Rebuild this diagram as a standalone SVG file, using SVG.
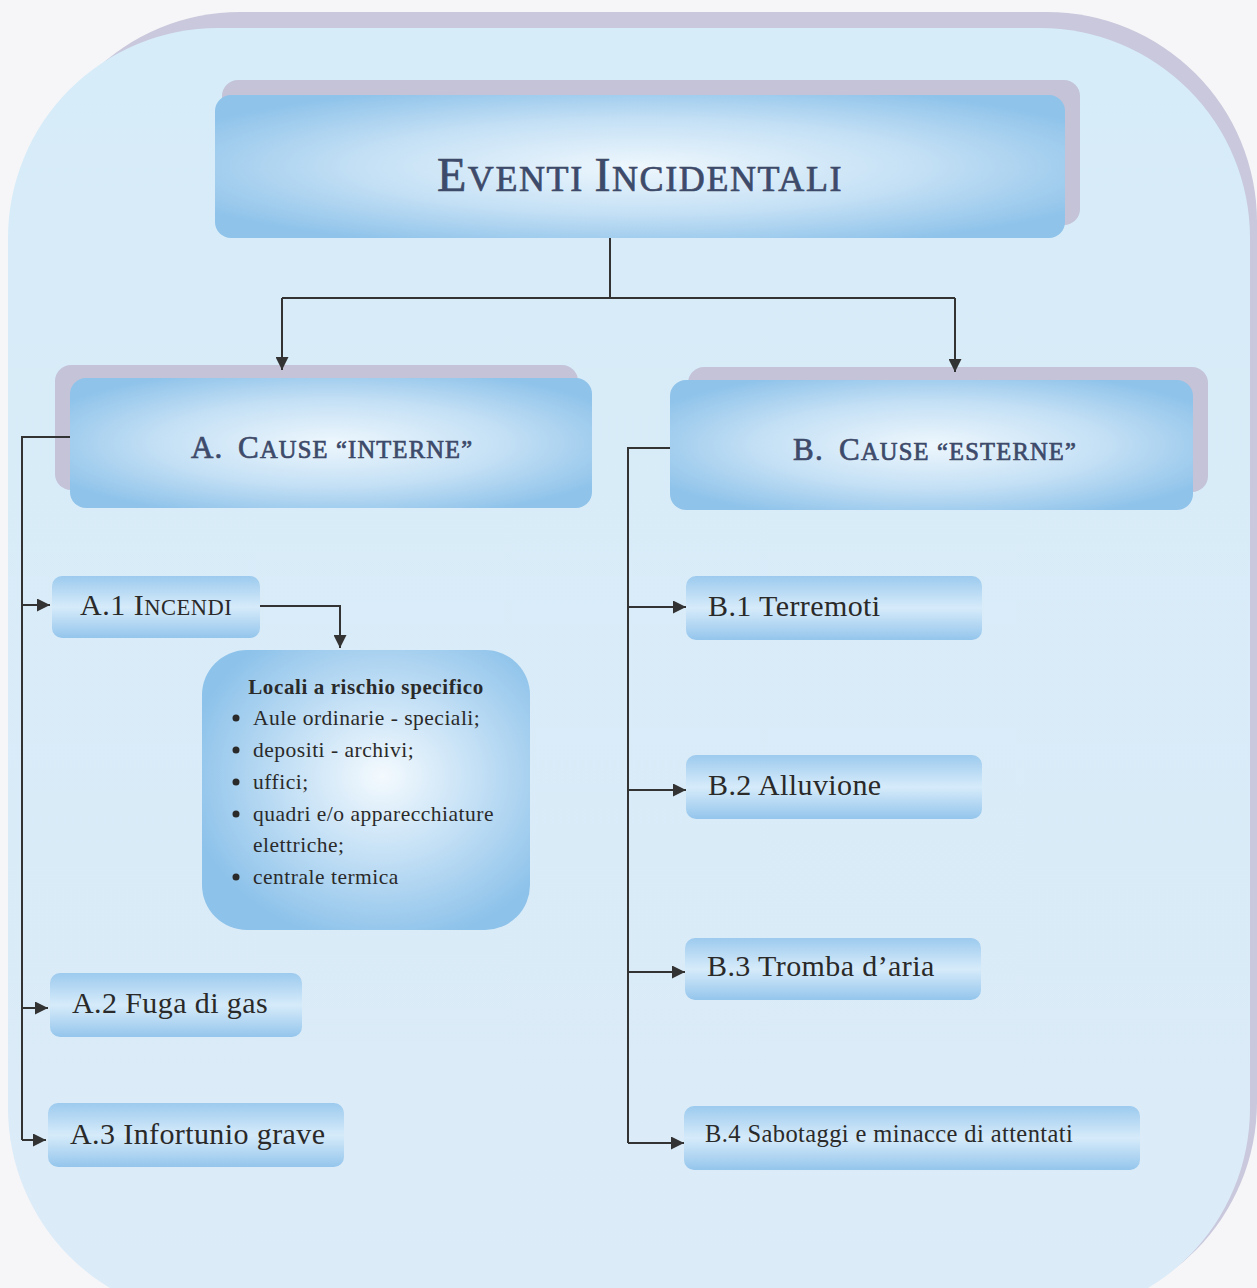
<svg xmlns="http://www.w3.org/2000/svg" width="1257" height="1288" viewBox="0 0 1257 1288">
<defs>
<linearGradient id="bg" x1="0" y1="0" x2="0" y2="1">
<stop offset="0" stop-color="#d6ecf8"/>
<stop offset="1" stop-color="#dcebf8"/>
</linearGradient>
<radialGradient id="box" cx="0.5" cy="0.5" r="0.6">
<stop offset="0" stop-color="#eef7fd"/>
<stop offset="0.55" stop-color="#c4e0f5"/>
<stop offset="1" stop-color="#8fc3ea"/>
</radialGradient>
<linearGradient id="child" x1="0" y1="0" x2="0" y2="1">
<stop offset="0" stop-color="#9ccaee"/>
<stop offset="0.5" stop-color="#d6ebfa"/>
<stop offset="1" stop-color="#94c5ec"/>
</linearGradient>
<radialGradient id="loc" cx="0.55" cy="0.45" r="0.6">
<stop offset="0" stop-color="#f4fafe"/>
<stop offset="0.5" stop-color="#c2dff5"/>
<stop offset="1" stop-color="#8dc2ea"/>
</radialGradient>
<marker id="ah" viewBox="0 0 10 10" refX="10" refY="5" markerWidth="13" markerHeight="13" markerUnits="userSpaceOnUse" orient="auto">
<path d="M0,0 L10,5 L0,10 Z" fill="#333"/>
</marker>
</defs>
<style>
.shadow{fill:#c4c3d8}
.hdr{fill:url(#box)}
.child{fill:url(#child)}
.t{font-family:"Liberation Serif","Times New Roman",serif;fill:#2a2a2a}
.lbl{font-size:30px;letter-spacing:0.4px}
.h{font-family:"Liberation Serif","Times New Roman",serif;fill:#3d4a6a;stroke:#3d4a6a;stroke-width:0.7px}
.c{fill:none;stroke:#333;stroke-width:2}
</style>
<rect width="1257" height="1288" fill="#f6f6f8"/>
<rect x="30" y="12" width="1227" height="1300" rx="210" fill="#c9c8dc"/>
<rect x="8" y="28" width="1242" height="1290" rx="210" fill="url(#bg)"/>

<g id="title">
<rect class="shadow" x="222" y="80" width="858" height="145" rx="16"/>
<rect class="hdr" x="215" y="95" width="850" height="143" rx="16"/>
<text class="h" x="640" y="191" text-anchor="middle" letter-spacing="1.6"><tspan font-size="48">E</tspan><tspan font-size="36">VENTI </tspan><tspan font-size="48">I</tspan><tspan font-size="36">NCIDENTALI</tspan></text>
</g>

<g id="nodeA">
<rect class="shadow" x="55" y="365" width="523" height="125" rx="16"/>
<rect class="hdr" x="70" y="378" width="522" height="130" rx="16"/>
<text class="h" y="458" letter-spacing="1.2"><tspan x="191" font-size="31">A.</tspan><tspan x="238" font-size="31">C</tspan><tspan font-size="24.5">AUSE “INTERNE”</tspan></text>
</g>

<g id="nodeB">
<rect class="shadow" x="688" y="367" width="520" height="125" rx="16"/>
<rect class="hdr" x="670" y="380" width="523" height="130" rx="16"/>
<text class="h" y="460" letter-spacing="1.2"><tspan x="793" font-size="31">B.</tspan><tspan x="839" font-size="31">C</tspan><tspan font-size="24.5">AUSE “ESTERNE”</tspan></text>
</g>

<g id="nodeA1">
<rect class="child" x="52" y="576" width="208" height="62" rx="10"/>
<text class="t" x="80" y="615" letter-spacing="0.5"><tspan font-size="30">A.1 I</tspan><tspan font-size="22.5">NCENDI</tspan></text>
</g>

<g id="nodeLocali">
<rect fill="url(#loc)" x="202" y="650" width="328" height="280" rx="45"/>
<text class="t" x="366" y="694" text-anchor="middle" font-size="21" font-weight="bold" letter-spacing="0.6">Locali a rischio specifico</text>
<g fill="#2a2a2a">
<circle cx="236" cy="718" r="3.5"/>
<circle cx="236" cy="750" r="3.5"/>
<circle cx="236" cy="782" r="3.5"/>
<circle cx="236" cy="814" r="3.5"/>
<circle cx="236" cy="877" r="3.5"/>
</g>
<g class="t" font-size="21.5" letter-spacing="0.5">
<text x="253" y="725">Aule ordinarie - speciali;</text>
<text x="253" y="757">depositi - archivi;</text>
<text x="253" y="789">uffici;</text>
<text x="253" y="821">quadri e/o apparecchiature</text>
<text x="253" y="852">elettriche;</text>
<text x="253" y="884">centrale termica</text>
</g>
</g>

<g id="nodeA2">
<rect class="child" x="50" y="973" width="252" height="64" rx="10"/>
<text class="t lbl" x="72" y="1013">A.2 Fuga di gas</text>
</g>

<g id="nodeA3">
<rect class="child" x="48" y="1103" width="296" height="64" rx="10"/>
<text class="t lbl" x="70" y="1144">A.3 Infortunio grave</text>
</g>

<g id="nodeB1">
<rect class="child" x="686" y="576" width="296" height="64" rx="10"/>
<text class="t lbl" x="708" y="616">B.1 Terremoti</text>
</g>

<g id="nodeB2">
<rect class="child" x="686" y="755" width="296" height="64" rx="10"/>
<text class="t lbl" x="708" y="795">B.2 Alluvione</text>
</g>

<g id="nodeB3">
<rect class="child" x="685" y="938" width="296" height="62" rx="10"/>
<text class="t lbl" x="707" y="976">B.3 Tromba d’aria</text>
</g>

<g id="nodeB4">
<rect class="child" x="684" y="1106" width="456" height="64" rx="10"/>
<text class="t" x="705" y="1142" font-size="24.5" letter-spacing="0.4">B.4 Sabotaggi e minacce di attentati</text>
</g>

<g id="connectors">
<path class="c" d="M610,238 V298"/>
<path class="c" d="M282,298 H955"/>
<path class="c" d="M282,298 V370" marker-end="url(#ah)"/>
<path class="c" d="M955,298 V372" marker-end="url(#ah)"/>
<path class="c" d="M70,437 H22 V1140"/>
<path class="c" d="M22,605 H50" marker-end="url(#ah)"/>
<path class="c" d="M22,1008 H48" marker-end="url(#ah)"/>
<path class="c" d="M22,1140 H46" marker-end="url(#ah)"/>
<path class="c" d="M260,606 H340 V648" marker-end="url(#ah)"/>
<path class="c" d="M670,448 H628 V1143"/>
<path class="c" d="M628,607 H686" marker-end="url(#ah)"/>
<path class="c" d="M628,790 H686" marker-end="url(#ah)"/>
<path class="c" d="M628,972 H685" marker-end="url(#ah)"/>
<path class="c" d="M628,1143 H684" marker-end="url(#ah)"/>
</g>
</svg>
